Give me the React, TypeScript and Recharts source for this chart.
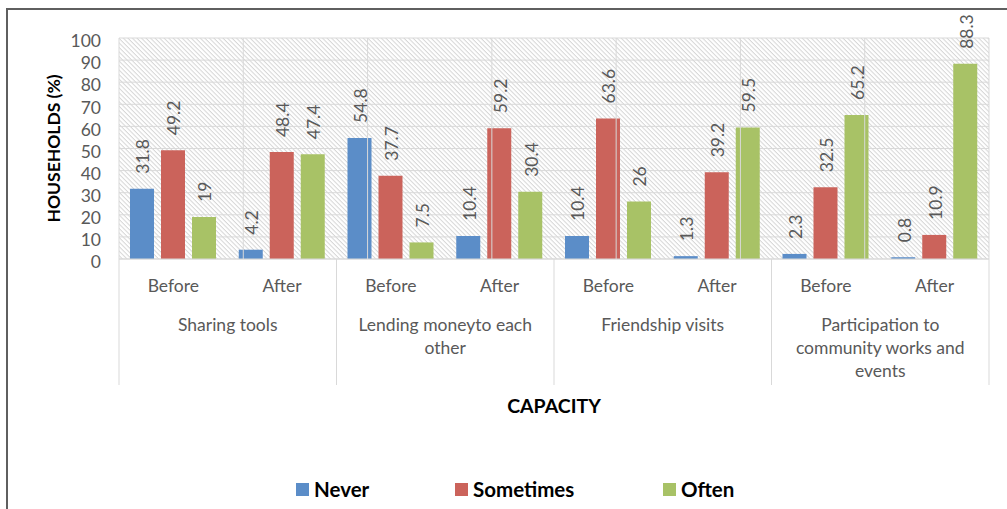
import React from 'react';
import { BarChart, Bar, XAxis, YAxis, CartesianGrid, LabelList, ReferenceLine, Label } from 'recharts';

const periods = ['Before', 'After', 'Before', 'After', 'Before', 'After', 'Before', 'After'];
const capacities = [
  'Sharing tools',
  'Lending moneyto each\nother',
  'Friendship visits',
  'Participation to\ncommunity works and\nevents',
];
const never = [31.8, 4.2, 54.8, 10.4, 10.4, 1.3, 2.3, 0.8];
const sometimes = [49.2, 48.4, 37.7, 59.2, 63.6, 39.2, 32.5, 10.9];
const often = [19, 47.4, 7.5, 30.4, 26, 59.5, 65.2, 88.3];
const yTicks = [0, 10, 20, 30, 40, 50, 60, 70, 80, 90, 100];

const seriesList = [
  { key: 'never', name: 'Never', color: '#5B8DC8' },
  { key: 'sometimes', name: 'Sometimes', color: '#CB635B' },
  { key: 'often', name: 'Often', color: '#A8C266' },
];
const legendLeft = [296, 455, 663];

const data = periods.map((p, i) => ({
  period: p,
  never: never[i],
  sometimes: sometimes[i],
  often: often[i],
}));
const boundaries = periods.map((_, i) => i).concat(periods.length);

const W = 1007;
const H = 509;
const M = { top: 38, right: 18, left: 20, bottom: 90 };
const Y_AXIS_W = 99;
const X_AXIS_H = 160;
const PLOT_W = W - M.left - M.right - Y_AXIS_W;
const FONT = 'Lato, "Open Sans", sans-serif';
const GRID = '#d9d9d9';
const TEXT = '#595959';

const CategoryTick = (props: any) => {
  const { x, y, payload, index } = props;
  const band = PLOT_W / periods.length;
  const isFirst = index % 2 === 0;
  const isLast = index === periods.length - 1;
  const lines = isFirst ? capacities[index / 2].split('\n') : [];
  return (
    <g>
      <text x={x} y={y + 33} textAnchor="middle" fill={TEXT} fontSize={17.5} fontFamily={FONT}>
        {payload.value}
      </text>
      {isFirst && (
        <line x1={x - band / 2} x2={x - band / 2} y1={y} y2={y + 126} stroke={GRID} />
      )}
      {isLast && (
        <line x1={x + band / 2} x2={x + band / 2} y1={y} y2={y + 126} stroke={GRID} />
      )}
      {lines.map((t, k) => (
        <text
          key={k}
          x={x + band / 2}
          y={y + 72 + k * 23}
          textAnchor="middle"
          fill={TEXT}
          fontSize={17.5}
          fontFamily={FONT}
        >
          {t}
        </text>
      ))}
    </g>
  );
};

const RotatedLabel = (props: any) => {
  const { x, y, width, value } = props;
  const cx = Number(x) + Number(width) / 2 + 1;
  const ty = Number(y) - 15;
  return (
    <text
      x={cx}
      y={ty}
      transform={`rotate(-90 ${cx} ${ty})`}
      textAnchor="start"
      dominantBaseline="central"
      fill={TEXT}
      fontSize={17.5}
      fontFamily={FONT}
    >
      {value}
    </text>
  );
};

const YTitle = (props: any) => {
  const vb = props.viewBox;
  const cx = vb.x + 33;
  const cy = vb.y + vb.height / 2;
  return (
    <text
      x={cx}
      y={cy}
      transform={`rotate(-90 ${cx} ${cy})`}
      textAnchor="middle"
      dominantBaseline="central"
      fill="#000"
      fontSize={17.5}
      fontWeight="bold"
      fontFamily={FONT}
    >
      HOUSEHOLDS (%)
    </text>
  );
};

export default function App() {
  return (
    <div
      style={{
        position: 'absolute',
        left: 0,
        top: 0,
        width: W,
        height: H,
        background: '#fff',
        fontFamily: FONT,
        overflow: 'hidden',
      }}
    >
      <svg width={0} height={0} style={{ position: 'absolute' }}>
        <defs>
          <pattern
            id="hatch"
            width={3.2}
            height={3.2}
            patternUnits="userSpaceOnUse"
            patternTransform="rotate(45)"
          >
            <rect width={3.2} height={3.2} fill="#ffffff" />
            <rect width={3.2} height={1} fill="#d6d6d6" />
          </pattern>
        </defs>
      </svg>
      <div
        style={{
          position: 'absolute',
          left: 6,
          top: 8,
          width: W,
          height: H,
          borderLeft: '2px solid #5f5f5f',
          borderTop: '2px solid #5f5f5f',
        }}
      />
      <div style={{ position: 'absolute', left: 0, top: 0 }}>
        <BarChart width={W} height={H} data={data} margin={M} barSize={24} barGap={7}>
          <CartesianGrid vertical={false} stroke={GRID} fill="url(#hatch)" fillOpacity={1} />
          <XAxis
            dataKey="period"
            interval={0}
            height={X_AXIS_H}
            tickSize={0}
            tickMargin={0}
            tickLine={false}
            axisLine={{ stroke: GRID }}
            tick={<CategoryTick />}
          >
            <Label
              value="CAPACITY"
              position="insideBottom"
              offset={6}
              style={{ fill: '#000', fontWeight: 'bold', fontSize: 19.5, fontFamily: FONT }}
            />
          </XAxis>
          <XAxis xAxisId="band" type="number" domain={[0, periods.length]} hide />
          <YAxis
            width={Y_AXIS_W}
            domain={[0, 100]}
            ticks={yTicks}
            interval={0}
            tickSize={0}
            tickMargin={18}
            axisLine={false}
            tickLine={false}
            tick={{ fill: TEXT, fontSize: 17.5, fontFamily: FONT, dy: 3 }}
          >
            <Label content={<YTitle />} />
          </YAxis>
          {boundaries.map((b) => (
            <ReferenceLine key={b} xAxisId="band" x={b} stroke={GRID} />
          ))}
          {seriesList.map((s) => (
            <Bar key={s.key} dataKey={s.key} name={s.name} fill={s.color} isAnimationActive={false}>
              <LabelList dataKey={s.key} content={<RotatedLabel />} />
            </Bar>
          ))}
        </BarChart>
      </div>
      {seriesList.map((s, i) => (
        <div
          key={s.key}
          style={{
            position: 'absolute',
            left: legendLeft[i],
            top: 476,
            height: 26,
            display: 'flex',
            alignItems: 'center',
            fontFamily: FONT,
            fontWeight: 'bold',
            fontSize: 20.5,
            color: '#000',
            whiteSpace: 'nowrap',
          }}
        >
          <span style={{ width: 13, height: 13, background: s.color, display: 'inline-block', marginRight: 5 }} />
          <span>{s.name}</span>
        </div>
      ))}
    </div>
  );
}
